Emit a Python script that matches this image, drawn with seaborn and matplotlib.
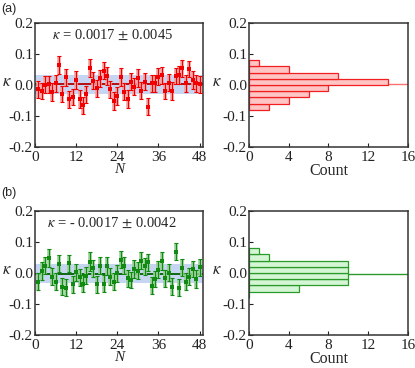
import numpy as np
import pandas as pd
import seaborn as sns
import matplotlib
matplotlib.use('Agg')
import matplotlib.pyplot as plt

sns.set_style('ticks')
plt.rcParams['font.family'] = ['Liberation Serif', 'DejaVu Serif']
plt.rcParams['mathtext.fontset'] = 'stix'
plt.rcParams['axes.unicode_minus'] = False

# measured kappa per sample N, panel (a)
kappa_a = [-0.014, -0.019, 0.001, 0.002, -0.022, 0.005, 0.065, -0.029, 0.025, -0.046,
           -0.039, 0.016, -0.045, -0.065, -0.030, 0.054, 0.014, -0.011, 0.021, 0.046,
           0.029, -0.014, -0.051, -0.035, 0.027, -0.022, -0.045, 0.011, -0.005, 0.022,
           -0.018, 0.011, -0.070, 0.005, 0.005, 0.027, 0.031, -0.019, 0.008, -0.019,
           0.029, 0.032, 0.054, 0.005, 0.052, 0.016, 0.005, 0.002]
err_a = [0.028, 0.027, 0.028, 0.027, 0.028, 0.027, 0.028, 0.027, 0.027, 0.028,
         0.027, 0.030, 0.028, 0.027, 0.028, 0.029, 0.027, 0.028, 0.027, 0.028,
         0.028, 0.027, 0.028, 0.028, 0.029, 0.027, 0.028, 0.027, 0.028, 0.029,
         0.027, 0.028, 0.028, 0.027, 0.028, 0.027, 0.028, 0.027, 0.028, 0.028,
         0.027, 0.028, 0.027, 0.028, 0.027, 0.028, 0.027, 0.028]

# panel (b)
kappa_b = [-0.028, 0.006, 0.024, 0.048, -0.012, -0.028, 0.030, -0.044, -0.047, 0.031,
           -0.037, 0.002, -0.014, -0.034, -0.009, 0.037, 0.015, -0.036, 0.024, -0.034,
           0.023, -0.012, -0.028, -0.001, 0.043, 0.024, -0.017, -0.023, 0.013, 0.008,
           0.040, 0.021, 0.035, -0.041, -0.019, 0.011, 0.039, -0.017, 0.001, -0.044,
           0.069, -0.048, 0.017, -0.028, -0.012, 0.013, -0.019, 0.018]
err_b = [0.027, 0.028, 0.027, 0.028, 0.028, 0.027, 0.028, 0.028, 0.027, 0.028,
         0.027, 0.028, 0.027, 0.028, 0.027, 0.030, 0.028, 0.027, 0.028, 0.027,
         0.028, 0.027, 0.028, 0.027, 0.028, 0.027, 0.028, 0.027, 0.028, 0.028,
         0.027, 0.028, 0.027, 0.028, 0.027, 0.028, 0.028, 0.027, 0.028, 0.027,
         0.028, 0.027, 0.028, 0.027, 0.028, 0.027, 0.028, 0.028]

N = list(range(1, 49))

# histogram bins and counts
bin_edges = [-0.08, -0.06, -0.04, -0.02, 0.0, 0.02, 0.04, 0.06, 0.08]
counts_a = [2, 4, 6, 8, 14, 9, 4, 1]
counts_b = [0, 5, 10, 10, 10, 10, 2, 1]

mean_a, band_a = 0.0017, 0.031
mean_b, band_b = -0.0017, 0.030
label_a = r'$\kappa$ = 0.0017 $\pm$ 0.0045'
label_b = r'$\kappa$ = - 0.0017 $\pm$ 0.0042'

fig = plt.figure(figsize=(4.15, 3.68), dpi=100)
ax_tl = fig.add_axes([0.0843, 0.6005, 0.405, 0.337])
ax_tr = fig.add_axes([0.600, 0.6005, 0.383, 0.337])
ax_bl = fig.add_axes([0.0843, 0.0897, 0.405, 0.337])
ax_br = fig.add_axes([0.600, 0.0897, 0.383, 0.337])


def style(ax):
    for s in ax.spines.values():
        s.set_color('#333333')
        s.set_linewidth(1.1)
    ax.tick_params(direction='in', length=3, width=0.8, labelsize=11,
                   colors='#222222', pad=1.5)
    ax.tick_params(axis='x', pad=3)
    ax.set_ylim(-0.2, 0.2)
    ax.set_yticks([-0.2, -0.1, 0.0, 0.1, 0.2])
    ax.set_yticklabels(['-0.2', '-0.1', '0.0', '0.1', '0.2'])


def scatter_panel(ax, k, e, color, light, line, mean, band, label):
    df = pd.DataFrame({'N': N, 'kappa': k})
    ax.axhspan(mean - band, mean + band, color='#c6d5f1', lw=0, zorder=0)
    ax.axhline(mean, color=line, lw=1.3, zorder=1)
    ax.errorbar(N, k, yerr=e, fmt='none', ecolor=light, elinewidth=2.6,
                capsize=0, zorder=2)
    ax.errorbar(N, k, yerr=e, fmt='none', ecolor=color, elinewidth=0.8,
                capsize=1.6, capthick=0.8, zorder=3)
    sns.scatterplot(data=df, x='N', y='kappa', ax=ax, marker='s', s=9,
                    color=color, edgecolor=color, linewidth=0, zorder=4)
    style(ax)
    ax.set_xlim(0, 49)
    ax.set_xticks([0, 12, 24, 36, 48])
    ax.set_xlabel('N', fontsize=11, style='italic', labelpad=-1)
    ax.set_ylabel(r'$\kappa$', fontsize=12, rotation=0)
    ax.yaxis.set_label_coords(-0.17, 0.46)
    ax.text(22.5, 0.16, label, ha='center', va='center', fontsize=10.5)


def hist_panel(ax, counts, face, edge, line, mean):
    centers = [(bin_edges[i] + bin_edges[i + 1]) / 2 for i in range(len(counts))]
    sns.histplot(y=centers, weights=counts, bins=bin_edges, ax=ax,
                 color=face, alpha=1, edgecolor=edge, linewidth=0.9)
    ax.axhline(mean, color=line, lw=1.0, zorder=0)
    style(ax)
    ax.set_xlim(0, 16)
    ax.set_xticks([0, 4, 8, 12, 16])
    ax.set_xlabel('Count', fontsize=11.5, labelpad=-1)
    ax.set_ylabel(r'$\kappa$', fontsize=12, rotation=0)
    ax.yaxis.set_label_coords(-0.2, 0.46)


scatter_panel(ax_tl, kappa_a, err_a, '#f00000', '#f7a0a0', '#b00000',
              mean_a, band_a, label_a)
scatter_panel(ax_bl, kappa_b, err_b, '#108a10', '#98d098', '#006000',
              mean_b, band_b, label_b)
hist_panel(ax_tr, counts_a, '#ffc4c4', '#f02020', '#ff7070', mean_a)
hist_panel(ax_br, counts_b, '#d4f6d4', '#2a9a2a', '#2a9a2a', mean_b)

fig.text(0.002, 0.975, '(a)', fontsize=9, family=['Liberation Sans', 'DejaVu Sans'],
         va='center')
fig.text(0.002, 0.475, '(b)', fontsize=9, family=['Liberation Sans', 'DejaVu Sans'],
         va='center')

fig.savefig('out.png', dpi=100)
